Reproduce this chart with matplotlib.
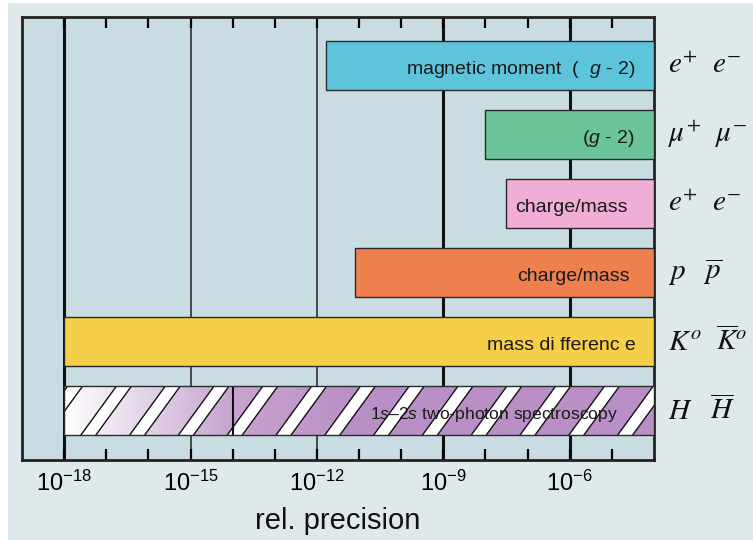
import numpy as np
import matplotlib
matplotlib.use('Agg')
import matplotlib.pyplot as plt
from matplotlib.patches import Rectangle, Polygon
from matplotlib.colors import to_rgb
from matplotlib.ticker import NullFormatter
from matplotlib.transforms import IdentityTransform

plt.rcParams['font.family'] = ['Liberation Sans', 'DejaVu Sans']
plt.rcParams['mathtext.fontset'] = 'custom'
plt.rcParams['mathtext.rm'] = 'Liberation Sans'
plt.rcParams['mathtext.it'] = 'Liberation Sans:italic'
plt.rcParams['mathtext.bf'] = 'Liberation Sans:bold'

# data (top to bottom)
particles = [r'$e^{+}\ \ e^{-}$', r'$\mu^{+}\ \ \mu^{-}$', r'$e^{+}\ \ e^{-}$',
             r'$p\ \ \ \overline{p}$', r'$K^{o}\ \ \overline{K}^{o}$', r'$H\ \ \ \overline{H}$']
methods = ['magnetic moment  (  $g$ - 2)', '($g$ - 2)', 'charge/mass', 'charge/mass',
           'mass di fferenc e', '1$s$\u20132$s$ two-photon spectroscopy']
prec_best = [1.6e-12, 1.0e-8, 3.0e-8, 8.0e-12, 1.0e-18, 1.0e-18]
prec_worst = [1e-4, 1e-4, 1e-4, 1e-4, 1e-4, 1e-4]
H_break = 1e-14
colors = ['#5ec4dc', '#6cc49a', '#f0add5', '#ee7f4f', '#f5cf48', '#b98fc6']
major_ticks = [1e-18, 1e-15, 1e-12, 1e-9, 1e-6]
major_labels = [r'10$^{\mathregular{-18}}$', r'10$^{\mathregular{-15}}$', r'10$^{\mathregular{-12}}$',
                r'10$^{\mathregular{-9}}$', r'10$^{\mathregular{-6}}$']
minor_ticks = [10.0 ** k for k in range(-18, -4)]

fig = plt.figure(figsize=(7.53, 5.4), dpi=100, facecolor='white')
bg = Rectangle((8 / 753, 0), 745 / 753, 537 / 540, transform=fig.transFigure,
               facecolor='#dfe8ea', edgecolor='none', zorder=-10)
fig.patches.append(bg)
ax = fig.add_axes([22 / 753, 80 / 540, 632 / 753, 443 / 540])
ax.set_facecolor('#c9dce1')
ax.set_xscale('log')

y = np.arange(len(methods))
h = 0.71
lefts = np.array(prec_best)
widths = np.array(prec_worst) - lefts
bars = ax.barh(y, widths, left=lefts, height=h, color=colors, edgecolor='#2a2a2a',
               linewidth=1, zorder=3)

xlim = (1e-19, 1e-4)
ylim = (5.717, -0.703)
ax.set_xlim(*xlim)
ax.set_ylim(*ylim)

# vertical decade lines
vl_w = [2.2, 1.3, 1.3, 2.2, 2.2]
vl_c = ['#111111', '#3a3a3a', '#3a3a3a', '#111111', '#111111']
for xv, lw, c in zip(major_ticks, vl_w, vl_c):
    ax.axvline(xv, color=c, lw=lw, zorder=1)

# hydrogen bar: gradient + white stripes
hbar = bars[-1]
hbar.set_facecolor('none')
hbar.set_zorder(4)
yh = y[-1]
to_ax = ax.transData + ax.transAxes.inverted()
(fx0, fy0), (fx1, fy1) = to_ax.transform([(prec_best[-1], yh + h / 2), (prec_worst[-1], yh - h / 2)])
d = np.linspace(np.log10(prec_best[-1]), np.log10(prec_worst[-1]), 700)
xp = [-18, np.log10(H_break), np.log10(H_break), -11, -4]
cp = [to_rgb('#ffffff'), to_rgb('#c6a4cf'), to_rgb('#c9a3d0'), to_rgb('#b98fc6'), to_rgb('#b98fc6')]
grad = np.stack([np.interp(d, xp, [c[i] for c in cp]) for i in range(3)], axis=-1)
im = ax.imshow(grad[None, :, :], extent=[fx0, fx1, fy0, fy1], transform=ax.transAxes,
               aspect='auto', interpolation='bilinear', zorder=3.1)
im.set_clip_path(hbar)
ax.set_xlim(*xlim)
ax.set_ylim(*ylim)

(px0, pyb), (px1, pyt) = ax.transData.transform([(prec_best[-1], yh + h / 2), (prec_worst[-1], yh - h / 2)])
period, sw = 48.8, 15
slant = 37 / 47 * (pyt - pyb)
xt = 118 - period * 3
while xt < px1 + period:
    xb = xt - slant
    poly = Polygon([(xb, pyb - 2), (xb + sw, pyb - 2), (xt + sw, pyt + 2), (xt, pyt + 2)],
                   closed=True, facecolor='white', edgecolor='#111111', lw=1.0,
                   transform=IdentityTransform(), zorder=3.2)
    ax.add_patch(poly)
    poly.set_clip_path(hbar)
    xt += period
ax.vlines(H_break, yh - h / 2, yh + h / 2, color='#111111', lw=1.5, zorder=3.3)

# bar texts
offs = [13.7, 13.7, 18.7, 17.3, 13, 26]
sizes = [14, 14, 14, 14, 14, 12.6]
for yi, m, o, s in zip(y, methods, offs, sizes):
    ax.annotate(m, xy=(prec_worst[yi], yi), xytext=(-o, -3), textcoords='offset points',
                ha='right', va='center', fontsize=s, color='#1a1a1a', zorder=6)

# particle labels
for yi, p in zip(y, particles):
    ax.annotate(p, xy=(1, yi), xycoords=('axes fraction', 'data'), xytext=(10, 0),
                textcoords='offset points', ha='left', va='center', fontsize=21,
                math_fontfamily='stix', color='#111111', annotation_clip=False)

# ticks
ax.set_xticks(major_ticks)
ax.set_xticklabels(major_labels)
ax.set_xticks([t for t in minor_ticks if t not in major_ticks], minor=True)
ax.xaxis.set_minor_formatter(NullFormatter())
ax.xaxis.set_tick_params(which='both', direction='in', top=True, bottom=True,
                         length=8, width=1.6, color='black')
ax.xaxis.set_tick_params(which='major', labelsize=17, pad=8)
ax.set_yticks([])
for sp in ax.spines.values():
    sp.set_linewidth(2)
    sp.set_color('#222222')
ax.set_xlabel('rel. precision', fontsize=21, labelpad=8, color='#111111')

fig.savefig('out.png', dpi=100)
